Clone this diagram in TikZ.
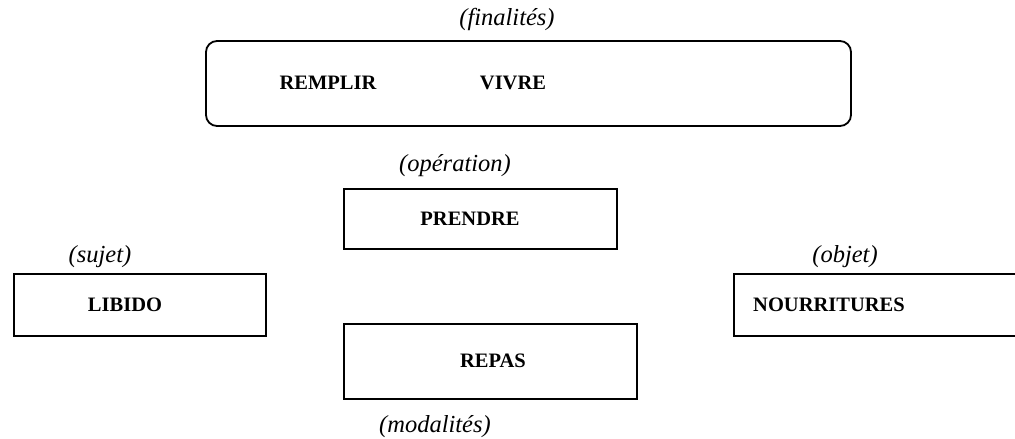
\documentclass[tikz,border=0pt]{standalone}
\usepackage{fontspec}
\setmainfont{Liberation Serif}
\begin{document}
\begin{tikzpicture}[x=1pt,y=-1pt,
  box/.style={draw=black,line width=1.8pt,fill=none},
  word/.style={font=\fontsize{20.5}{24}\selectfont\bfseries,inner sep=0pt},
  role/.style={font=\fontsize{24.5}{28}\selectfont\itshape,inner sep=0pt}]
\clip (0,0) rectangle (1015,439);
% finalités
\draw[box,rounded corners=11pt] (206,41) rectangle (851,126);
\node[role] (fin) at (507,19) {(finalités)};
\node[word] (remplir) at (328,83) {REMPLIR};
\node[word] (vivre) at (513,83) {VIVRE};
% opération
\node[box,minimum width=273pt,minimum height=60pt,anchor=north west,inner sep=0pt] (prendre) at (343,188) {};
\node[word] (prendretxt) at (470,219) {PRENDRE};
\node[role] (op) at (455,166) {(opération)};
% sujet
\node[box,minimum width=252pt,minimum height=62pt,anchor=north west,inner sep=0pt] (libido) at (13,273) {};
\node[word] (libidotxt) at (125,305) {LIBIDO};
\node[role] (suj) at (100,257) {(sujet)};
% objet
\node[box,minimum width=300pt,minimum height=62pt,anchor=north west,inner sep=0pt] (nour) at (733,273) {};
\node[word,anchor=west] (nourtxt) at (753,305) {NOURRITURES};
\node[role] (obj) at (845,257) {(objet)};
% modalités
\node[box,minimum width=293pt,minimum height=75pt,anchor=north west,inner sep=0pt] (repas) at (343,323) {};
\node[word] (repastxt) at (493,361) {REPAS};
\node[role] (mod) at (435,427) {(modalités)};
\end{tikzpicture}
\end{document}
